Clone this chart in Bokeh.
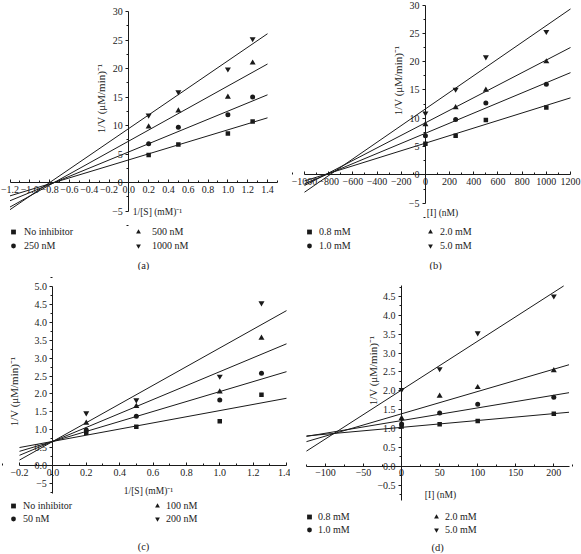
import numpy as np
from bokeh.plotting import figure
from bokeh.models import (FixedTicker, PrintfTickFormatter, Label, Legend,
                          LegendItem, Range1d)
from bokeh.layouts import column, row
from bokeh.embed import file_html
from bokeh.resources import INLINE

# ---------------- data ----------------
series_markers = ["square", "circle", "triangle", "inverted_triangle"]

# Panel (a): 1/V vs 1/[S]
a_x = [0.2, 0.5, 1.0, 1.25]
a_labels = ["No inhibitor", "250 nM", "500 nM", "1000 nM"]
a_no_inhibitor = [4.83, 6.7, 8.6, 10.7]
a_250 = [6.8, 9.7, 11.9, 15.0]
a_500 = [9.8, 12.6, 15.0, 21.0]
a_1000 = [11.8, 15.9, 19.9, 25.2]
a_intercepts = [4.0, 5.4, 7.3, 9.5]
a_slopes = [5.26, 7.14, 9.64, 11.86]
a_fit_x = [-1.2, 1.4]
a_xticks = [-1.2, -1.0, -0.8, -0.6, -0.4, -0.2, 0.0, 0.2, 0.4, 0.6, 0.8, 1.0, 1.2, 1.4]
a_yticks = [-5, 0, 5, 10, 15, 20, 25, 30]

# Panel (b): 1/V vs [I]
b_x = [0, 250, 500, 1000]
b_labels = ["0.8 mM", "1.0 mM", "2.0 mM", "5.0 mM"]
b_08 = [5.5, 6.9, 9.7, 11.9]
b_10 = [6.9, 9.8, 12.7, 16.0]
b_20 = [8.9, 11.9, 15.0, 20.0]
b_50 = [10.9, 15.1, 20.8, 25.3]
b_intercepts = [5.6, 7.35, 9.2, 11.65]
b_slopes = [0.00667, 0.00892, 0.01108, 0.01471]
b_fit_x = [-1000, 1200]
b_xticks = [-1000, -800, -600, -400, -200, 0, 200, 400, 600, 800, 1000, 1200]
b_yticks = [-5, 0, 5, 10, 15, 20, 25, 30]

# Panel (c): 1/V vs 1/[S]
c_x = [0.2, 0.5, 1.0, 1.25]
c_labels = ["No inhibitor", "50 nM", "100 nM", "200 nM"]
c_no_inhibitor = [0.92, 1.09, 1.24, 1.98]
c_50 = [1.0, 1.38, 1.83, 2.58]
c_100 = [1.19, 1.66, 2.06, 3.56]
c_200 = [1.47, 1.83, 2.49, 4.53]
c_intercepts = [0.68, 0.68, 0.68, 0.68]
c_slopes = [0.857, 1.386, 1.94, 2.6]
c_fit_x = [-0.2, 1.4]
c_xticks = [-0.2, 0.0, 0.2, 0.4, 0.6, 0.8, 1.0, 1.2, 1.4]
c_yticks = [-0.5, 0.0, 0.5, 1.0, 1.5, 2.0, 2.5, 3.0, 3.5, 4.0, 4.5, 5.0]
c_ytick_overrides = {-0.5: "\u22125"}

# Panel (d): 1/V vs [I]
d_x = [0, 50, 100, 200]
d_labels = ["0.8 mM", "1.0 mM", "2.0 mM", "5.0 mM"]
d_08 = [1.05, 1.11, 1.20, 1.39]
d_10 = [1.12, 1.41, 1.64, 1.83]
d_20 = [1.27, 1.86, 2.09, 2.54]
d_50 = [2.03, 2.58, 3.53, 4.51]
d_intercepts = [1.03, 1.21, 1.39, 2.02]
d_slopes = [0.00182, 0.00336, 0.00591, 0.01296]
d_fit_x = [-125, 220]
d_xticks = [-100, -50, 0, 50, 100, 150, 200]
d_yticks = [-0.5, 0.0, 0.5, 1.0, 1.5, 2.0, 2.5, 3.0, 3.5, 4.0, 4.5]

FONT = "Liberation Serif"
INK = "#1a1a1a"
TXT = "#222222"
MINUS = "\u2212"


def lin(v0, p0, v1, p1):
    """value as function of local pixel, from two calibration points"""
    return lambda p: v0 + (p - p0) * (v1 - v0) / (p1 - p0)


def minors(ticks):
    step = ticks[1] - ticks[0]
    return [t + step / 2 for t in [ticks[0] - step] + list(ticks)]


def neg_overrides(ticks, fmt):
    return {t: MINUS + (fmt % abs(t)) for t in ticks if t < 0}


def panel(W, H, xcal, ycal, xb, yb, xticks, yticks, xfmt, yfmt,
          xs, ys_list, labels, intercepts, slopes, fit_x,
          ytitle_pos, xtitle, xtitle_pos, caption, cap_pos,
          col_centers, col_gaps, leg_bottom, leg_spacing, yoverrides=None):
    fx = lin(*xcal)
    fy = lin(*ycal)
    p = figure(width=W, height=H,
               x_range=Range1d(fx(0), fx(W)), y_range=Range1d(fy(H), fy(0)),
               output_backend="svg", toolbar_location=None, min_border=0)
    p.title.visible = False
    p.grid.visible = False
    p.outline_line_color = None
    p.background_fill_color = "white"
    p.border_fill_color = "white"

    xa = p.xaxis[0]
    ya = p.yaxis[0]
    xa.fixed_location = 0
    ya.fixed_location = 0
    xa.bounds = xb
    ya.bounds = yb
    xa.ticker = FixedTicker(ticks=xticks, minor_ticks=minors(xticks))
    ya.ticker = FixedTicker(ticks=yticks, minor_ticks=minors(yticks))
    xa.formatter = PrintfTickFormatter(format=xfmt)
    ya.formatter = PrintfTickFormatter(format=yfmt)
    xa.major_label_overrides = neg_overrides(xticks, xfmt)
    yo = neg_overrides(yticks, yfmt)
    if yoverrides:
        yo.update(yoverrides)
    ya.major_label_overrides = yo
    for ax in (xa, ya):
        ax.axis_line_color = INK
        ax.major_tick_line_color = INK
        ax.minor_tick_line_color = INK
        ax.major_label_text_font = FONT
        ax.major_label_text_font_size = "10px"
        ax.major_label_text_color = TXT
    xa.major_tick_in, xa.major_tick_out = 3, 0
    xa.minor_tick_in, xa.minor_tick_out = 2, 0
    ya.major_tick_in, ya.major_tick_out = 0, 3
    ya.minor_tick_in, ya.minor_tick_out = 0, 2
    xa.major_label_standoff = 3
    ya.major_label_standoff = 3

    items = []
    for k in range(4):
        b, m = intercepts[k], slopes[k]
        x0, x1 = fit_x
        if b + m * x1 > yb[1]:
            x1 = (yb[1] - b) / m
        p.line([x0, x1], [b + m * x0, b + m * x1], line_color=INK, line_width=1)
        size = {"square": 4.5, "circle": 5}.get(series_markers[k], 6)
        r = p.scatter(xs, ys_list[k], marker=series_markers[k], size=size,
                      fill_color=INK, line_color=None)
        items.append(LegendItem(label=labels[k], renderers=[r]))

    for c in range(2):
        leg = Legend(items=items[2 * c:2 * c + 2],
                     location=(int(round(col_centers[c] - 6)), int(round(leg_bottom))),
                     orientation="vertical", border_line_color=None, background_fill_alpha=0,
                     padding=0, margin=0, spacing=leg_spacing, glyph_width=12, glyph_height=13,
                     label_height=13, label_width=20,
                     label_standoff=int(round(col_gaps[c] - 6)),
                     label_text_font=FONT, label_text_font_size="10px",
                     label_text_color=TXT)
        p.add_layout(leg)

    p.add_layout(Label(x=fx(ytitle_pos[0]), y=fy(ytitle_pos[1]), text="1/V (\u03bcM/min)\u207b\u00b9",
                       angle=np.pi / 2, text_align="center", text_baseline="middle",
                       text_font=FONT, text_font_size="11px", text_color=TXT))
    p.add_layout(Label(x=fx(xtitle_pos[0]), y=fy(xtitle_pos[1]), text=xtitle,
                       text_align="center", text_baseline="middle",
                       text_font=FONT, text_font_size="9.5px", text_color=TXT))
    p.add_layout(Label(x=fx(cap_pos[0]), y=fy(cap_pos[1]), text=caption,
                       text_align="center", text_baseline="middle",
                       text_font=FONT, text_font_size="10.5px", text_color=TXT))
    return p


pa = panel(290, 270, (-1.2, 9.5, 1.4, 267), (30, 11, -5, 210.7), (-1.2, 1.5), (-5, 30),
           a_xticks, a_yticks, "%.1f", "%d",
           a_x, [a_no_inhibitor, a_250, a_500, a_1000], a_labels, a_intercepts, a_slopes, a_fit_x,
           (100, 98), "1/[S] (mM)\u207b\u00b9", (157, 211), "(a)", (143, 265),
           (13, 138), (11, 14), 18, 1)

pb = panel(291, 270, (-1000, 14, 1200, 280), (30, 4.5, -5, 202.7), (-1000, 1200), (-5, 30),
           b_xticks, b_yticks, "%d", "%d",
           b_x, [b_08, b_10, b_20, b_50], b_labels, b_intercepts, b_slopes, b_fit_x,
           (107, 80), "[I] (nM)", (152, 212), "(b)", (145, 265),
           (19, 140), (10, 10), 18, 1)

pc = panel(290, 284, (-0.2, 19, 1.4, 286), (5.0, 15.7, 0.0, 195.3), (-0.2, 1.4), (-0.77, 5.0),
           c_xticks, c_yticks, "%.1f", "%.1f",
           c_x, [c_no_inhibitor, c_50, c_100, c_200], c_labels, c_intercepts, c_slopes, c_fit_x,
           (13, 121), "1/[S] (mM)\u207b\u00b9", (148, 220), "(c)", (143, 276),
           (13, 157), (10, 9), 29, 0, yoverrides=c_ytick_overrides)

pd = panel(291, 284, (-100, 35, 200, 263.3), (4.5, 26, 0.0, 195.7), (-125, 220), (-0.9, 4.78),
           d_xticks, d_yticks, "%d", "%.1f",
           d_x, [d_08, d_10, d_20, d_50], d_labels, d_intercepts, d_slopes, d_fit_x,
           (82, 100), "[I] (nM)", (150, 224), "(d)", (147, 277),
           (19, 146), (9, 9), 18, 0)

layout = column(row(pa, pb), row(pc, pd))
open("out.html", "w").write(file_html(layout, INLINE))
